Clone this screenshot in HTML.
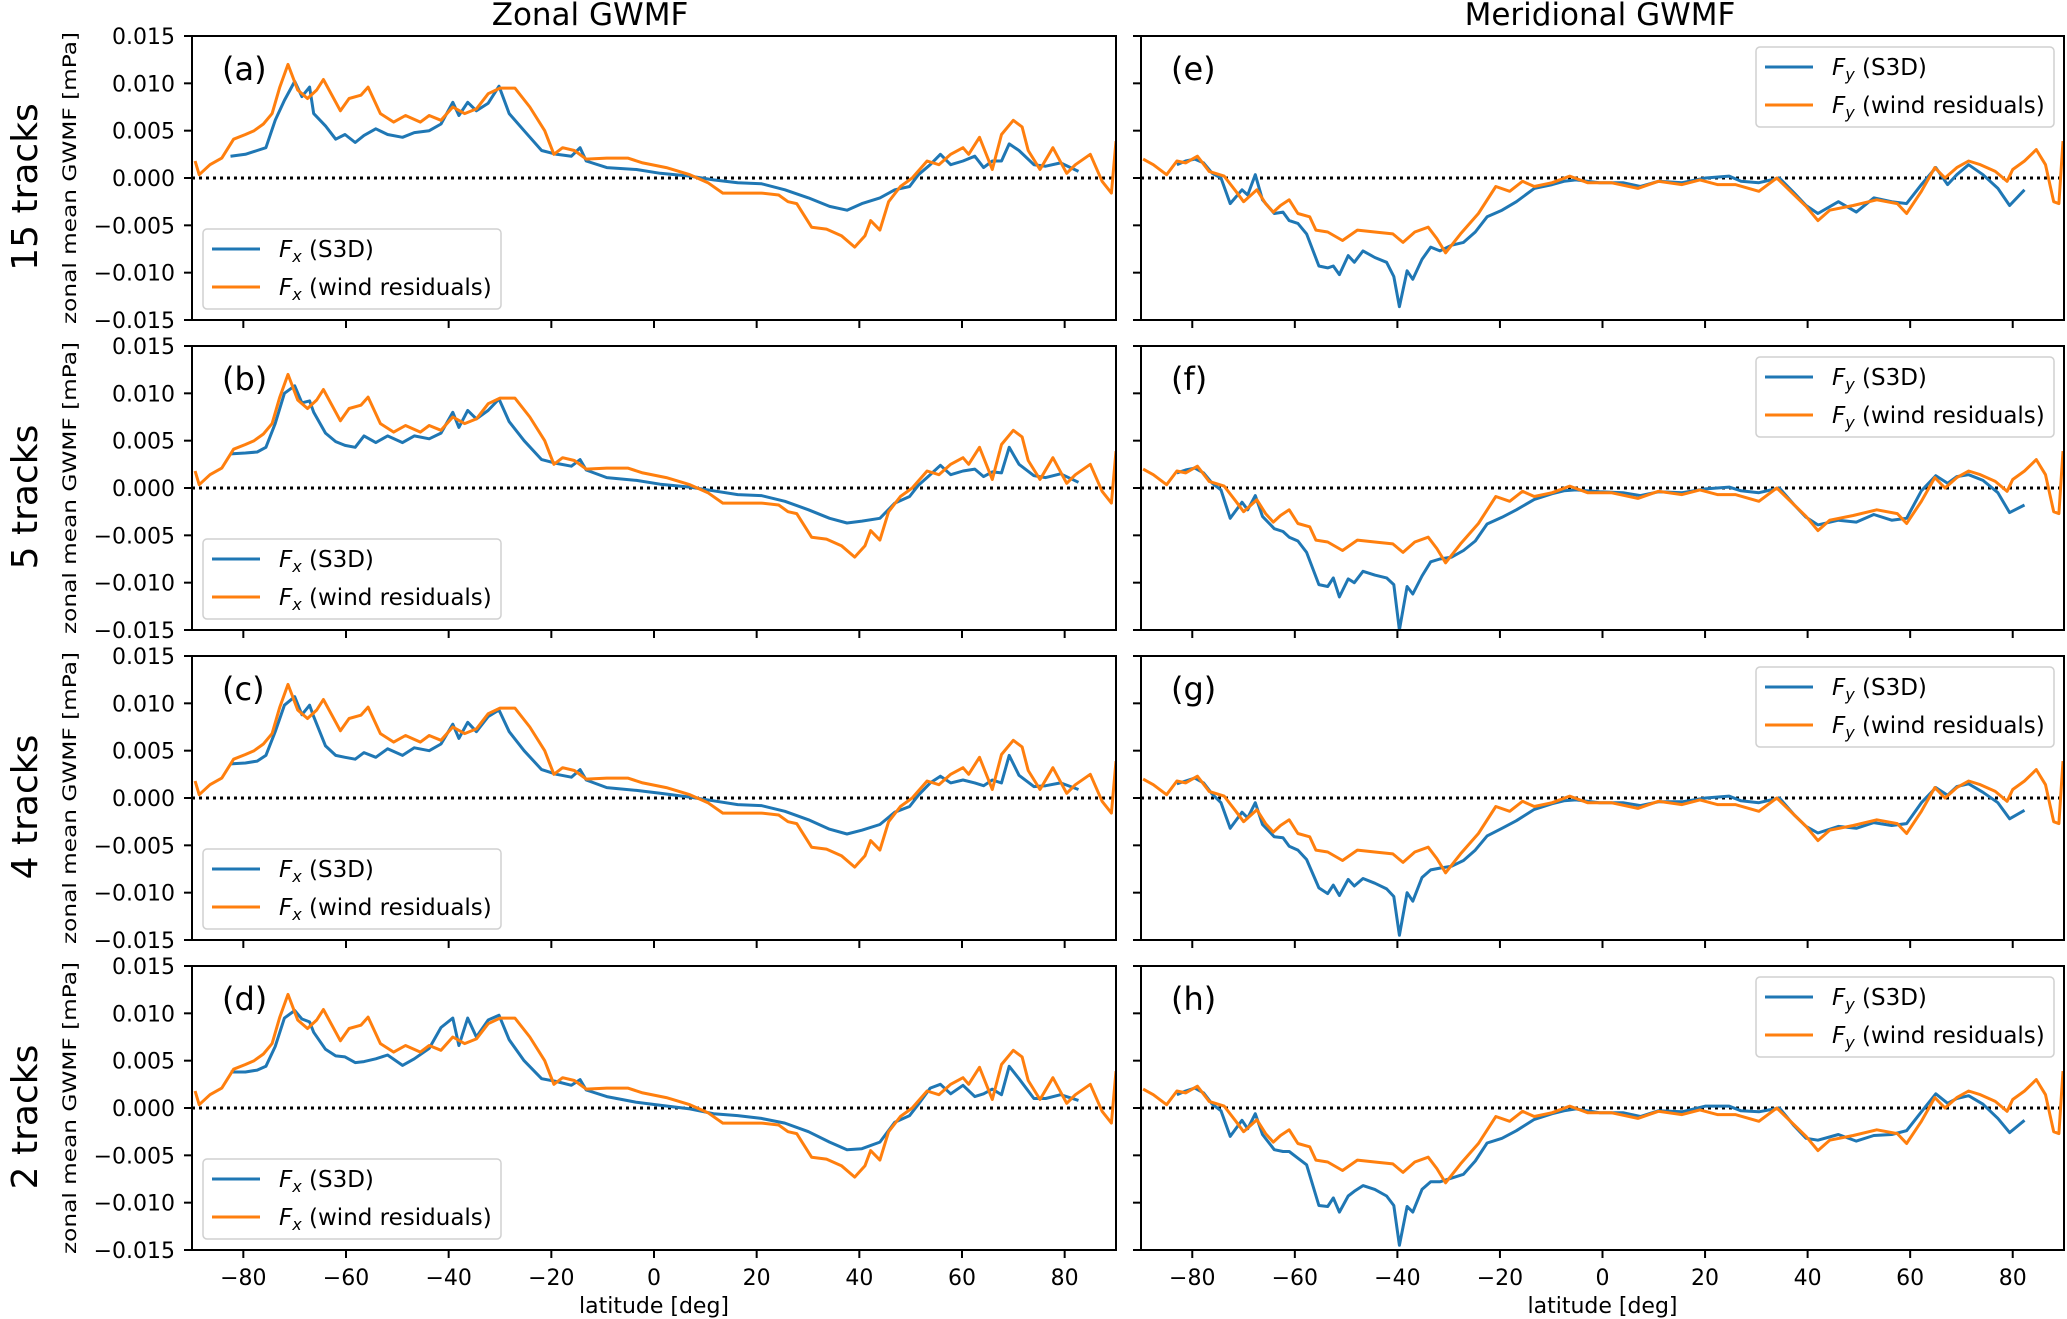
<!DOCTYPE html>
<html><head><meta charset="utf-8">
<style>
html,body{margin:0;padding:0;background:#fff;}
svg{display:block;font-family:"DejaVu Sans","Liberation Sans",sans-serif;}
</style></head>
<body>
<svg id="fig" width="2067" height="1319" viewBox="0 0 2067 1319" xmlns="http://www.w3.org/2000/svg"></svg>
<script>
// ---- data (values in units of 1e-3 mPa) ----
const yTickValues = [0.015, 0.010, 0.005, 0.000, -0.005, -0.010, -0.015];
const yTickLabels = ["0.015", "0.010", "0.005", "0.000", "\u22120.005", "\u22120.010", "\u22120.015"];
const xTickValues = [-80, -60, -40, -20, 0, 20, 40, 60, 80];
const xTickLabels = ["\u221280", "\u221260", "\u221240", "\u221220", "0", "20", "40", "60", "80"];
const rowLabels = ["15 tracks", "5 tracks", "4 tracks", "2 tracks"];
const leftLetters = ["(a)", "(b)", "(c)", "(d)"];
const rightLetters = ["(e)", "(f)", "(g)", "(h)"];

const latFxS3D = [-82.5,-79.6,-77.3,-75.6,-73.8,-72,-70,-68.6,-67.1,-66.3,-64,-62,-60.2,-58.2,-56.5,-54.2,-51.9,-49,-46.7,-43.8,-41.5,-39.2,-38,-36.3,-34.6,-32.3,-30.2,-28.2,-25.3,-21.9,-19,-16.1,-14.4,-13.2,-9.2,-3.4,1.2,7,11.6,16.3,20.9,25.5,30.1,34.2,37.6,40.5,44,46.9,49.8,51.5,53.8,55.8,57.8,60.2,62.5,64.2,65.9,67.7,69.2,71.1,74,76.3,79.2,82.7];
const fxS3D_a = [2.3,2.5,2.9,3.2,6.1,8.2,10.2,8.6,9.6,6.8,5.5,4.1,4.6,3.75,4.5,5.2,4.6,4.3,4.8,5,5.7,8,6.6,8,7.1,7.9,9.7,6.8,5,2.9,2.5,2.3,3.2,1.8,1.1,0.9,0.5,0.2,-0.2,-0.5,-0.6,-1.25,-2.1,-3,-3.4,-2.7,-2.1,-1.25,-0.9,0.35,1.4,2.5,1.4,1.8,2.3,1.1,1.8,1.8,3.6,2.9,1.4,1.25,1.6,0.7];
const fxS3D_b = [3.6,3.7,3.8,4.3,6.8,10,10.8,9,9.2,8,5.8,4.9,4.5,4.3,5.5,4.8,5.5,4.8,5.5,5.2,5.8,8,6.4,8.2,7.3,8.2,9.4,7,5,3,2.6,2.3,3,1.9,1.1,0.8,0.4,0.1,-0.3,-0.7,-0.8,-1.4,-2.3,-3.2,-3.7,-3.5,-3.2,-1.6,-0.9,0.3,1.4,2.4,1.4,1.8,2.0,1.2,1.7,1.6,4.3,2.5,1.3,1.1,1.5,0.6];
const fxS3D_c = [3.6,3.7,3.9,4.5,7,9.8,10.7,8.8,9.8,8.6,5.5,4.5,4.3,4.1,4.8,4.3,5.2,4.5,5.3,5,5.7,7.8,6.3,8,7,8.6,9.3,7,5,3,2.5,2.2,3,1.9,1.1,0.8,0.5,0.1,-0.3,-0.7,-0.8,-1.4,-2.3,-3.3,-3.8,-3.4,-2.8,-1.5,-0.9,0.3,1.6,2.3,1.6,1.9,1.6,1.3,1.9,1.6,4.5,2.4,1.2,1.3,1.6,0.9];
const fxS3D_d = [3.8,3.8,4,4.4,6.5,9.5,10.3,9.4,9.1,8,6.2,5.5,5.4,4.8,4.9,5.2,5.6,4.5,5.2,6.3,8.5,9.5,6.6,9.5,7.5,9.3,9.8,7.2,5,3.1,2.8,2.4,3,1.9,1.2,0.6,0.3,-0.1,-0.6,-0.8,-1.1,-1.6,-2.5,-3.6,-4.4,-4.3,-3.6,-1.5,-0.8,0.4,2.1,2.5,1.5,2.4,1.2,1.5,2.0,1.4,4.4,3.1,1,1,1.4,0.8];

const latFxWind = [-89.4,-88.6,-86.5,-84.2,-81.9,-79.6,-77.9,-76.1,-74.4,-72.9,-71.3,-69.4,-67.5,-65.7,-64.4,-62.9,-61.1,-59.4,-57.1,-55.7,-53.3,-50.7,-48.4,-45.5,-43.8,-41.5,-39.2,-36.9,-34.6,-32.3,-30,-27.1,-24.2,-21.3,-19.5,-17.8,-15.5,-13.2,-9.2,-5.1,-2.2,2.4,7,10.5,13.4,17.4,20.9,24.3,26.1,27.8,30.7,33.6,36.5,39.1,41.1,42.2,44,45.7,48,50.3,53.2,55.5,57.8,60.2,61.3,63.4,65.9,67.7,70,71.7,72.9,75.2,77.7,80.4,82.1,85,87.3,89.1,90];
const fxWind = [1.8,0.35,1.4,2.1,4.1,4.6,5,5.7,6.8,9.6,12,9.3,8.4,9.3,10.4,8.9,7.1,8.4,8.75,9.6,6.8,5.9,6.6,5.9,6.6,6.1,7.5,6.8,7.3,8.9,9.5,9.5,7.5,5,2.5,3.2,2.9,2,2.1,2.1,1.6,1.1,0.35,-0.5,-1.6,-1.6,-1.6,-1.8,-2.5,-2.7,-5.2,-5.4,-6.1,-7.3,-6.1,-4.5,-5.5,-2.5,-0.9,0,1.8,1.4,2.5,3.2,2.5,4.3,0.9,4.6,6.1,5.4,2.9,0.9,3.2,0.5,1.4,2.5,-0.35,-1.6,3.9];

const latFyS3D = [-83,-81.3,-79.5,-77.8,-76.1,-74.4,-72.6,-70.3,-69.2,-67.7,-66.3,-64,-62.3,-61.1,-59.4,-57.7,-55.3,-53.6,-52.5,-51.3,-49.6,-48.4,-46.7,-44.4,-42.1,-40.7,-39.6,-38.1,-37,-35.2,-33.5,-31.7,-29.4,-27.1,-24.8,-22.5,-19.6,-16.8,-13.3,-9.8,-7.5,-5.2,-0.6,4,7.4,10.9,15.5,20.1,24.7,27,30.5,34.5,37.4,39.7,42,46,49.5,52.9,56.4,59.3,62.2,65,67.3,69.1,71.4,74.2,77.1,79.4,82.3];
const fyS3D_e = [1.4,1.8,2,1.6,0.5,0,-2.7,-1.25,-1.8,0.35,-2.3,-3.75,-3.6,-4.5,-4.8,-5.9,-9.3,-9.5,-9.3,-10.2,-8.2,-8.9,-7.7,-8.4,-8.9,-10.4,-13.6,-9.8,-10.7,-8.6,-7.3,-7.7,-7.1,-6.8,-5.7,-4.1,-3.4,-2.5,-1.1,-0.7,-0.35,-0.2,-0.5,-0.5,-0.9,-0.35,-0.5,0,0.2,-0.35,-0.5,0,-1.6,-2.9,-3.75,-2.5,-3.6,-2.1,-2.5,-2.7,-0.7,1.1,-0.7,0.35,1.4,0.35,-1.1,-2.9,-1.25];
const fyS3D_f = [1.6,1.9,2.1,1.6,0.5,-0.2,-3.2,-1.5,-2.3,-0.8,-3,-4.3,-4.6,-5.2,-5.6,-6.8,-10.2,-10.4,-9.5,-11.5,-9.6,-10,-8.8,-9.2,-9.5,-10.2,-15,-10.4,-11.2,-9.3,-7.8,-7.5,-7.3,-6.6,-5.6,-3.8,-3.1,-2.3,-1.2,-0.6,-0.3,-0.2,-0.4,-0.5,-0.8,-0.4,-0.5,-0.1,0.1,-0.3,-0.5,0,-1.8,-3.1,-3.9,-3.4,-3.6,-2.8,-3.4,-3.2,-0.3,1.3,0.5,1.2,1.4,0.8,-0.5,-2.6,-1.8];
const fyS3D_g = [1.5,1.8,2.1,1.6,0.4,-0.5,-3.2,-1.5,-2.1,-0.5,-2.8,-4.1,-4.2,-5.1,-5.5,-6.5,-9.5,-10.1,-9.2,-10.3,-8.6,-9.3,-8.5,-9,-9.6,-10.4,-14.5,-10,-10.9,-8.4,-7.6,-7.4,-7.2,-6.6,-5.5,-4,-3.2,-2.4,-1.2,-0.6,-0.3,-0.2,-0.5,-0.5,-0.8,-0.4,-0.4,0,0.2,-0.3,-0.5,0,-1.8,-3,-3.7,-3,-3.2,-2.6,-2.9,-2.7,-0.5,1.1,0.3,1.2,1.5,0.6,-0.5,-2.2,-1.3];
const fyS3D_h = [1.4,1.8,2.1,1.6,0.4,-0.3,-3,-1.3,-2.2,-0.6,-2.8,-4.4,-4.6,-4.6,-5.3,-6,-10.3,-10.4,-9.5,-11,-9.3,-8.8,-8.2,-8.6,-9.3,-10.3,-14.5,-10.4,-11,-8.6,-7.8,-7.8,-7.4,-7,-5.6,-3.7,-3.2,-2.4,-1.2,-0.6,-0.3,-0.1,-0.5,-0.5,-0.9,-0.3,-0.4,0.2,0.2,-0.3,-0.4,0,-1.9,-3.2,-3.4,-2.8,-3.5,-2.9,-2.8,-2.4,-0.4,1.5,0.5,1,1.3,0.4,-1.1,-2.6,-1.3];

const latFyWind = [-89.6,-87.6,-85,-83,-81.3,-79,-76.7,-73.8,-71.5,-70,-67.4,-65.7,-64.2,-62.8,-61.1,-59.4,-57.1,-55.9,-53.6,-50.7,-47.8,-44.4,-40.9,-38.9,-36.6,-34,-32.3,-30.6,-27.7,-24.2,-20.8,-18.1,-15.6,-13.3,-9.8,-6.4,-2.9,1.7,6.9,10.9,15.5,19,22.4,25.9,30.5,34,37.4,39.7,42,44.3,48.9,53.5,57.5,59.3,62.2,64.8,66.8,69.1,71.4,73.7,76.6,78.9,80,82.3,84.6,86.4,88,89,89.8];
const fyWind = [2,1.4,0.35,1.8,1.6,2.3,0.7,0.2,-1.4,-2.5,-1.25,-2.7,-3.6,-2.9,-2.3,-3.75,-4.1,-5.5,-5.7,-6.6,-5.5,-5.7,-5.9,-6.8,-5.7,-5.2,-6.4,-7.9,-5.9,-3.75,-0.9,-1.4,-0.35,-0.9,-0.5,0.2,-0.5,-0.5,-1.1,-0.35,-0.7,-0.2,-0.7,-0.7,-1.4,0,-1.8,-3,-4.5,-3.4,-2.9,-2.3,-2.7,-3.75,-1.4,1.1,0,1.1,1.8,1.4,0.7,-0.35,0.9,1.8,3,1.4,-2.5,-2.7,3.9];

const leftS3D = [fxS3D_a, fxS3D_b, fxS3D_c, fxS3D_d];
const rightS3D = [fyS3D_e, fyS3D_f, fyS3D_g, fyS3D_h];
const UNIT = 0.001;

// ---- layout ----
const NS = "http://www.w3.org/2000/svg";
const svg = document.getElementById("fig");
const tops = [36, 346, 656, 966];
const PH = 284;
const cols = [{x0:192, x1:1116}, {x0:1141, x1:2064}];
const BLUE = "#1f77b4", ORANGE = "#ff7f0e";

function mk(tag, attrs, parent) {
  const e = document.createElementNS(NS, tag);
  for (const k in attrs) e.setAttribute(k, attrs[k]);
  (parent || svg).appendChild(e);
  return e;
}
function xScale(col, lat) { return col.x0 + (lat + 90) / 180 * (col.x1 - col.x0); }
function yScale(top, v) { return top + (0.015 - v) / 0.030 * PH; }

function drawLine(g, col, top, lats, vals, color, name) {
  let d = "";
  for (let i = 0; i < lats.length; i++) {
    d += (i ? "L" : "M") + xScale(col, lats[i]).toFixed(1) + "," + yScale(top, vals[i] * UNIT).toFixed(1);
  }
  const p = mk("path", {d: d, fill: "none", stroke: color, "stroke-width": 3, "stroke-linejoin": "round"}, g);
  
  
}

function drawLegend(g, x, y, comp) {
  const lg = mk("g", {}, g);
  
  
  mk("rect", {x: x, y: y, width: 298, height: 80, rx: 4, fill: "#fff", "fill-opacity": 0.8, stroke: "#d0d0d0", "stroke-width": 1.5}, lg);
  const rows = [[BLUE, "(S3D)"], [ORANGE, "(wind residuals)"]];
  rows.forEach((r, i) => {
    const cy = y + 20 + i * 38;
    const ent = mk("g", {}, lg);
    
    
    mk("line", {x1: x + 9, x2: x + 57, y1: cy, y2: cy, stroke: r[0], "stroke-width": 3}, ent);
    const t = mk("text", {x: x + 76, y: cy + 8, "font-size": 23, fill: "#000"}, ent);
    const f = mk("tspan", {"font-style": "italic"}, t); f.textContent = "F";
    const s = mk("tspan", {"font-style": "italic", "font-size": 16, dy: 5}, t); s.textContent = comp;
    const rest = mk("tspan", {dy: -5}, t); rest.textContent = " " + r[1];
  });
}

// titles
let tt = mk("text", {x: 590, y: 25, "font-size": 31, "text-anchor": "middle"});
tt.textContent = "Zonal GWMF";


tt = mk("text", {x: 1600, y: 25, "font-size": 31, "text-anchor": "middle"});
tt.textContent = "Meridional GWMF";



for (let r = 0; r < 4; r++) {
  const top = tops[r];
  const cyL = top + PH / 2 + 9;
  const rl = mk("text", {x: 0, y: 0, "font-size": 36, "text-anchor": "middle", transform: "translate(37," + cyL + ") rotate(-90)"});
  rl.textContent = rowLabels[r];
  
  
  const yl = mk("text", {x: 0, y: 0, "font-size": 19, "text-anchor": "middle", transform: "translate(76," + (top + PH / 2) + ") rotate(-90)", textLength: 292, lengthAdjust: "spacingAndGlyphs"});
  yl.textContent = "zonal mean GWMF [mPa]";
  
  

  for (let c = 0; c < 2; c++) {
    const col = cols[c];
    const g = mk("g", {});
    
    
    const clipId = "clip" + r + c;
    const cp = mk("clipPath", {id: clipId}, g);
    mk("rect", {x: col.x0, y: top, width: col.x1 - col.x0, height: PH}, cp);
    const z = mk("line", {x1: col.x0, x2: col.x1, y1: yScale(top, 0), y2: yScale(top, 0), stroke: "#000", "stroke-width": 3, "stroke-dasharray": "3 4"}, g);
    
    
    const lg = mk("g", {"clip-path": "url(#" + clipId + ")"}, g);
    if (c === 0) {
      drawLine(lg, col, top, latFxS3D, leftS3D[r], BLUE, 'fx-s3d-line');
      drawLine(lg, col, top, latFxWind, fxWind, ORANGE, 'fx-wind-residuals-line');
    } else {
      drawLine(lg, col, top, latFyS3D, rightS3D[r], BLUE, 'fy-s3d-line');
      drawLine(lg, col, top, latFyWind, fyWind, ORANGE, 'fy-wind-residuals-line');
    }
    const fr = mk("rect", {x: col.x0, y: top, width: col.x1 - col.x0, height: PH, fill: "none", stroke: "#000", "stroke-width": 2}, g);
    
    
    yTickValues.forEach((v, i) => {
      const y = yScale(top, v);
      mk("line", {x1: col.x0 - 8, x2: col.x0, y1: y, y2: y, stroke: "#000", "stroke-width": 2}, g);
      if (c === 0) {
        const t = mk("text", {x: 175, y: y + 8, "font-size": 22, "text-anchor": "end"}, g);
        t.textContent = yTickLabels[i];
        
        
      }
    });
    xTickValues.forEach((v, i) => {
      const x = xScale(col, v);
      mk("line", {x1: x, x2: x, y1: top + PH, y2: top + PH + 8, stroke: "#000", "stroke-width": 2}, g);
      if (r === 3) {
        const t = mk("text", {x: x, y: top + PH + 35, "font-size": 22, "text-anchor": "middle"}, g);
        t.textContent = xTickLabels[i];
        
        
      }
    });
    if (r === 3) {
      const xl = mk("text", {x: (col.x0 + col.x1) / 2, y: 1313, "font-size": 22, "text-anchor": "middle"}, g);
      xl.textContent = "latitude [deg]";
      
      
    }
    const pl = mk("text", {x: col.x0 + 30, y: top + 44, "font-size": 32}, g);
    pl.textContent = c ? rightLetters[r] : leftLetters[r];
    
    
    if (c === 0) drawLegend(g, 203, top + PH - 91, "x");
    else drawLegend(g, 1756, top + 11, "y");
  }
}
</script>
</body></html>
